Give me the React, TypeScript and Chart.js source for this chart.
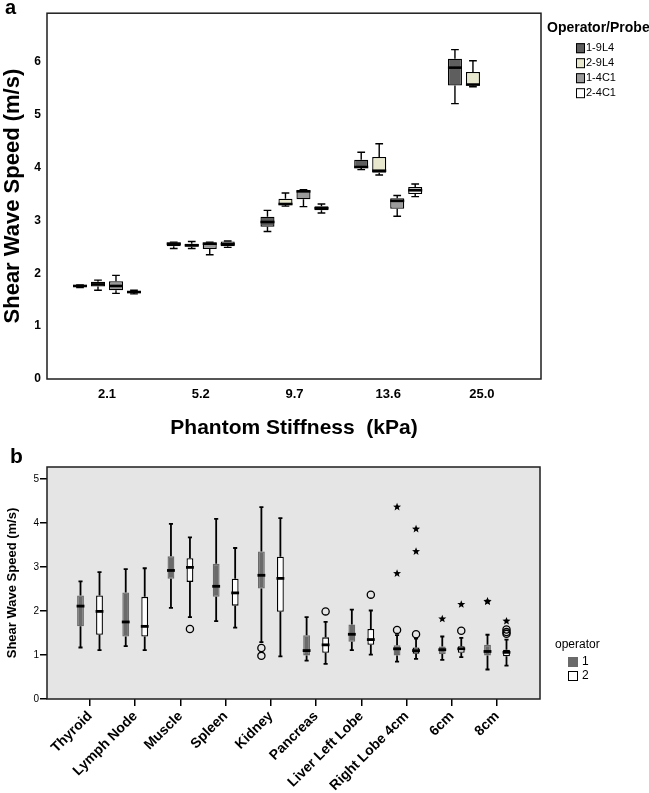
import React, { useEffect, useRef } from 'react';
import { Chart, registerables } from 'chart.js';

Chart.register(...registerables);

const FONT = "'Liberation Sans', Arial, Helvetica, sans-serif";

// ---------------- Panel a : phantom ----------------
const stiffnessLabels = ['2.1', '5.2', '9.7', '13.6', '25.0'];
const probeNames = ['1-9L4', '2-9L4', '1-4C1', '2-4C1'];
const probeFills = ['#5e5e5e', '#e8e8cf', '#9b9b9b', '#ffffff'];
// five-number summaries [min, q1, median, q3, max]; null = not measured
const probe1_9L4 = [
  [1.73, 1.745, 1.76, 1.775, 1.78],
  [2.47, 2.51, 2.56, 2.58, 2.59],
  [2.79, 2.88, 2.97, 3.07, 3.19],
  [3.96, 3.99, 4.01, 4.15, 4.29],
  [5.21, 5.55, 5.89, 6.06, 6.23],
];
const probe2_9L4 = [
  [1.68, 1.75, 1.79, 1.84, 1.87],
  [2.47, 2.50, 2.53, 2.56, 2.60],
  [3.27, 3.29, 3.31, 3.41, 3.52],
  [3.86, 3.90, 3.94, 4.20, 4.45],
  [5.53, 5.55, 5.57, 5.81, 6.02],
];
const probe1_4C1 = [
  [1.62, 1.68, 1.76, 1.85, 1.96],
  [2.35, 2.46, 2.56, 2.58, 2.59],
  [3.26, 3.40, 3.55, 3.57, 3.58],
  [3.08, 3.22, 3.37, 3.42, 3.47],
  null,
];
const probe2_4C1 = [
  [1.61, 1.63, 1.645, 1.66, 1.68],
  [2.49, 2.51, 2.55, 2.60, 2.61],
  [3.14, 3.19, 3.23, 3.27, 3.31],
  [3.45, 3.50, 3.57, 3.63, 3.69],
  null,
];
const probeStats = [probe1_9L4, probe2_9L4, probe1_4C1, probe2_4C1];

// ---------------- Panel b : organs ----------------
const organLabels = [
  'Thyroid', 'Lymph Node', 'Muscle', 'Spleen', 'Kidney',
  'Pancreas', 'Liver Left Lobe', 'Right Lobe 4cm', '6cm', '8cm',
];
const operatorNames = ['1', '2'];
const operatorFills = ['#6a6a6a', '#ffffff'];
const operatorBorders = ['#6a6a6a', '#000000'];
const operator1Stats = [
  [1.17, 1.65, 2.11, 2.35, 2.67],
  [1.20, 1.42, 1.75, 2.42, 2.95],
  [2.07, 2.73, 2.92, 3.24, 3.98],
  [1.77, 2.32, 2.56, 3.07, 4.09],
  [1.29, 2.51, 2.81, 3.35, 4.36],
  [0.87, 0.99, 1.10, 1.45, 1.86],
  [1.11, 1.30, 1.47, 1.69, 2.03],
  [0.85, 0.99, 1.14, 1.22, 1.45],
  [0.89, 1.02, 1.12, 1.19, 1.42],
  [0.67, 0.99, 1.08, 1.23, 1.46],
];
const operator2Stats = [
  [1.11, 1.46, 1.99, 2.35, 2.88],
  [1.11, 1.42, 1.65, 2.32, 2.97],
  [1.86, 2.66, 2.99, 3.20, 3.67],
  [1.62, 2.12, 2.41, 2.73, 3.43],
  [0.97, 1.98, 2.74, 3.23, 4.11],
  [0.80, 1.05, 1.23, 1.40, 1.75],
  [1.01, 1.23, 1.35, 1.59, 2.01],
  [0.91, 1.03, 1.10, 1.17, 1.37],
  [0.95, 1.05, 1.14, 1.20, 1.39],
  [0.76, 0.97, 1.06, 1.12, 1.35],
];
const operator1Circles = [[], [], [], [], [1.16, 0.98], [], [], [1.57], [], []];
const operator1Stars = [[], [], [], [], [], [], [], [4.36, 2.85], [1.82], [2.22, 2.21]];
const operator2Circles = [[], [], [1.59], [], [], [1.99], [2.37], [1.47], [1.55], [1.58, 1.52, 1.48]];
const operator2Stars = [[], [], [], [], [], [], [], [3.86, 3.35], [2.15], [1.77]];
const operatorStats = [operator1Stats, operator2Stats];
const operatorCircles = [operator1Circles, operator2Circles];
const operatorStars = [operator1Stars, operator2Stars];

// ---------------- helpers ----------------
function boxData(stats: any[], circles?: number[][], stars?: number[][]) {
  const out: any[] = [];
  stats.forEach((s, i) => {
    if (!s) return;
    out.push({
      x: i,
      y: [s[1], s[3]],
      stats: s,
      circles: circles ? circles[i] : [],
      stars: stars ? stars[i] : [],
    });
  });
  return out;
}

function drawStar(ctx: CanvasRenderingContext2D, cx: number, cy: number, R: number, r: number) {
  ctx.beginPath();
  for (let k = 0; k < 10; k++) {
    const ang = -Math.PI / 2 + (k * Math.PI) / 5;
    const rad = k % 2 === 0 ? R : r;
    ctx.lineTo(cx + rad * Math.cos(ang), cy + rad * Math.sin(ang));
  }
  ctx.closePath();
  ctx.fill();
}

const framePlugin = {
  id: 'frame',
  beforeDraw(chart: any, _a: any, o: any) {
    const { ctx, chartArea: c } = chart;
    if (o.fill) {
      ctx.save();
      ctx.fillStyle = o.fill;
      ctx.fillRect(c.left, c.top, c.right - c.left, c.bottom - c.top);
      ctx.restore();
    }
  },
  afterDraw(chart: any, _a: any, o: any) {
    const { ctx, chartArea: c } = chart;
    ctx.save();
    ctx.strokeStyle = o.stroke;
    ctx.lineWidth = o.lineWidth;
    ctx.strokeRect(c.left, c.top, c.right - c.left, c.bottom - c.top);
    ctx.restore();
  },
};

const boxPlotPlugin = {
  id: 'boxplot',
  afterDatasetsDraw(chart: any, _a: any, o: any) {
    const { ctx } = chart;
    const ys = chart.scales.y;
    chart.data.datasets.forEach((ds: any, di: number) => {
      const meta = chart.getDatasetMeta(di);
      meta.data.forEach((el: any, j: number) => {
        const raw = ds.data[j];
        if (!raw || !raw.stats) return;
        const { x, width } = el.getProps(['x', 'width'], true);
        const [mn, q1, md, q3, mx] = raw.stats.map((v: number) => ys.getPixelForValue(v));
        const cap = (width * o.capRatio) / 2;
        ctx.save();
        ctx.strokeStyle = o.lineColor;
        ctx.lineWidth = o.whiskerWidth;
        ctx.beginPath();
        ctx.moveTo(x, q3); ctx.lineTo(x, mx);
        ctx.moveTo(x - cap, mx); ctx.lineTo(x + cap, mx);
        ctx.moveTo(x, q1); ctx.lineTo(x, mn);
        ctx.moveTo(x - cap, mn); ctx.lineTo(x + cap, mn);
        ctx.stroke();
        ctx.lineWidth = o.medianWidth;
        ctx.beginPath();
        ctx.moveTo(x - width / 2 - o.medianOverhang, md);
        ctx.lineTo(x + width / 2 + o.medianOverhang, md);
        ctx.stroke();
        ctx.lineWidth = o.circleWidth || 1.3;
        (raw.circles || []).forEach((v: number) => {
          ctx.beginPath();
          ctx.arc(x, ys.getPixelForValue(v), o.circleRadius || 3.5, 0, Math.PI * 2);
          ctx.stroke();
        });
        ctx.fillStyle = o.lineColor;
        (raw.stars || []).forEach((v: number) => {
          drawStar(ctx, x, ys.getPixelForValue(v), o.starOuter || 4, o.starInner || 1.7);
        });
        ctx.restore();
      });
    });
  },
};

const sideLegendPlugin = {
  id: 'sideLegend',
  afterDraw(chart: any, _a: any, o: any) {
    const { ctx, chartArea: c } = chart;
    const left = c.right + o.dx;
    ctx.save();
    ctx.textAlign = 'left';
    ctx.textBaseline = 'middle';
    ctx.fillStyle = '#000';
    ctx.font = o.titleFont;
    ctx.fillText(o.title, left, c.top + o.titleDy);
    ctx.font = o.itemFont;
    chart.data.datasets.forEach((ds: any, i: number) => {
      const cy = c.top + o.itemDy + i * o.itemStep;
      const sx = left + o.swatchDx;
      ctx.fillStyle = ds.backgroundColor;
      ctx.fillRect(sx, cy - o.swH / 2, o.swW, o.swH);
      ctx.strokeStyle = ds.borderColor;
      ctx.lineWidth = 1;
      ctx.strokeRect(sx + 0.5, cy - o.swH / 2 + 0.5, o.swW - 1, o.swH - 1);
      ctx.fillStyle = '#000';
      ctx.fillText(ds.label, left + o.textDx, cy);
    });
    ctx.restore();
  },
};

const panelLetterPlugin = {
  id: 'panelLetter',
  afterDraw(chart: any, _a: any, o: any) {
    const { ctx } = chart;
    ctx.save();
    ctx.fillStyle = '#000';
    ctx.font = o.font;
    ctx.textAlign = 'left';
    ctx.textBaseline = 'alphabetic';
    ctx.fillText(o.text, o.x, o.y);
    ctx.restore();
  },
};

function configA(): any {
  return {
    type: 'bar',
    data: {
      datasets: probeNames.map((name, k) => ({
        label: name,
        data: boxData(probeStats[k]),
        backgroundColor: probeFills[k],
        borderColor: '#000000',
        borderWidth: 1.3,
        borderSkipped: false,
        categoryPercentage: 0.768,
        barPercentage: 0.78,
      })),
    },
    options: {
      responsive: false,
      animation: false,
      devicePixelRatio: 1,
      events: [],
      layout: { padding: { top: 13, right: 108, bottom: 0, left: 0 } },
      scales: {
        x: {
          type: 'linear',
          offset: false,
          min: -0.64,
          max: 4.63,
          grid: { display: false, drawTicks: false, offset: false },
          border: { display: false },
          ticks: {
            stepSize: 1,
            includeBounds: false,
            autoSkip: false,
            maxRotation: 0,
            minRotation: 0,
            padding: 8,
            color: '#000',
            font: { family: FONT, size: 13, weight: 'bold' },
            callback: (v: number) => (Number.isInteger(v) ? stiffnessLabels[v] ?? '' : ''),
          },
          title: {
            display: true,
            text: 'Phantom Stiffness  (kPa)',
            color: '#000',
            font: { family: FONT, size: 21, weight: 'bold' },
            padding: { top: 0, bottom: 1 },
          },
          afterFit: (s: any) => { s.height = 63; },
        },
        y: {
          min: 0,
          max: 6.92,
          grid: { display: false, drawTicks: false },
          border: { display: false },
          ticks: {
            stepSize: 1,
            includeBounds: false,
            padding: 6,
            color: '#000',
            font: { family: FONT, size: 12, weight: 'bold' },
          },
          title: {
            display: true,
            text: 'Shear Wave Speed (m/s)',
            color: '#000',
            font: { family: FONT, size: 22, weight: 'bold' },
            padding: { top: 0, bottom: 0 },
          },
          afterFit: (s: any) => { s.width = 47; },
        },
      },
      plugins: {
        legend: { display: false },
        tooltip: { enabled: false },
        frame: { stroke: '#1e1e1e', lineWidth: 1.5 },
        boxplot: {
          lineColor: '#000', whiskerWidth: 1.4, capRatio: 0.55,
          medianWidth: 2.6, medianOverhang: 0,
        },
        sideLegend: {
          dx: 6, title: 'Operator/Probe', titleFont: `bold 14px ${FONT}`, titleDy: 15,
          itemFont: `11px ${FONT}`, itemDy: 35, itemStep: 15,
          swatchDx: 29, swW: 9, swH: 10, textDx: 39,
        },
        panelLetter: { text: 'a', font: `bold 20px ${FONT}`, x: 5, y: 14 },
      },
    },
    plugins: [framePlugin, boxPlotPlugin, sideLegendPlugin, panelLetterPlugin],
  };
}

function configB(): any {
  return {
    type: 'bar',
    data: {
      datasets: operatorNames.map((name, k) => ({
        label: name,
        data: boxData(operatorStats[k], operatorCircles[k], operatorStars[k]),
        backgroundColor: operatorFills[k],
        borderColor: operatorBorders[k],
        borderWidth: 1.3,
        borderSkipped: false,
        categoryPercentage: 0.84,
        barPercentage: 0.36,
      })),
    },
    options: {
      responsive: false,
      animation: false,
      devicePixelRatio: 1,
      events: [],
      layout: { padding: { top: 25, right: 109, bottom: 0, left: 0 } },
      scales: {
        x: {
          type: 'linear',
          offset: false,
          min: -0.951,
          max: 9.951,
          grid: { display: true, offset: false, drawOnChartArea: false, drawTicks: true, tickLength: 7, color: '#000', lineWidth: 1.5 },
          border: { display: false },
          ticks: {
            stepSize: 1,
            includeBounds: false,
            autoSkip: false,
            maxRotation: 45,
            minRotation: 45,
            padding: 2,
            color: '#000',
            font: { family: FONT, size: 14, weight: 'bold' },
            callback: (v: number) => (Number.isInteger(v) ? organLabels[v] ?? '' : ''),
          },
          afterFit: (s: any) => { s.height = 94; },
        },
        y: {
          min: 0,
          max: 5.27,
          grid: { display: true, offset: false, drawOnChartArea: false, drawTicks: true, tickLength: 7, color: '#000', lineWidth: 1.5 },
          border: { display: false },
          ticks: {
            stepSize: 1,
            includeBounds: false,
            padding: 1,
            color: '#000',
            font: { family: FONT, size: 10 },
          },
          title: {
            display: true,
            text: 'Shear Wave Speed (m/s)',
            color: '#000',
            font: { family: FONT, size: 13, weight: 'bold' },
            padding: { top: 5, bottom: 0 },
          },
          afterFit: (s: any) => { s.width = 47; },
        },
      },
      plugins: {
        legend: { display: false },
        tooltip: { enabled: false },
        frame: { fill: '#e5e5e5', stroke: '#1e1e1e', lineWidth: 1.5 },
        boxplot: {
          lineColor: '#000', whiskerWidth: 1.8, capRatio: 0.6,
          medianWidth: 2.8, medianOverhang: 0.5,
          circleRadius: 3.6, circleWidth: 1.3, starOuter: 4.2, starInner: 1.8,
        },
        sideLegend: {
          dx: 15, title: 'operator', titleFont: `12px ${FONT}`, titleDy: 178,
          itemFont: `12px ${FONT}`, itemDy: 195, itemStep: 14,
          swatchDx: 13, swW: 10, swH: 10, textDx: 27,
        },
        panelLetter: { text: 'b', font: `bold 21px ${FONT}`, x: 10, y: 21 },
      },
    },
    plugins: [framePlugin, boxPlotPlugin, sideLegendPlugin, panelLetterPlugin],
  };
}

function ChartCanvas(props: { make: () => any; top: number; width: number; height: number }) {
  const ref = useRef<HTMLCanvasElement>(null);
  useEffect(() => {
    const chart = new Chart(ref.current as HTMLCanvasElement, props.make());
    return () => chart.destroy();
  }, []);
  return (
    <canvas
      ref={ref}
      width={props.width}
      height={props.height}
      style={{
        position: 'absolute',
        left: 0,
        top: props.top,
        width: props.width,
        height: props.height,
        display: 'block',
      }}
    />
  );
}

export default function App() {
  return (
    <div
      style={{
        position: 'absolute',
        left: 0,
        top: 0,
        width: 649,
        height: 793,
        background: '#ffffff',
        overflow: 'hidden',
      }}
    >
      <ChartCanvas make={configA} top={0} width={649} height={442} />
      <ChartCanvas make={configB} top={442} width={649} height={351} />
    </div>
  );
}
